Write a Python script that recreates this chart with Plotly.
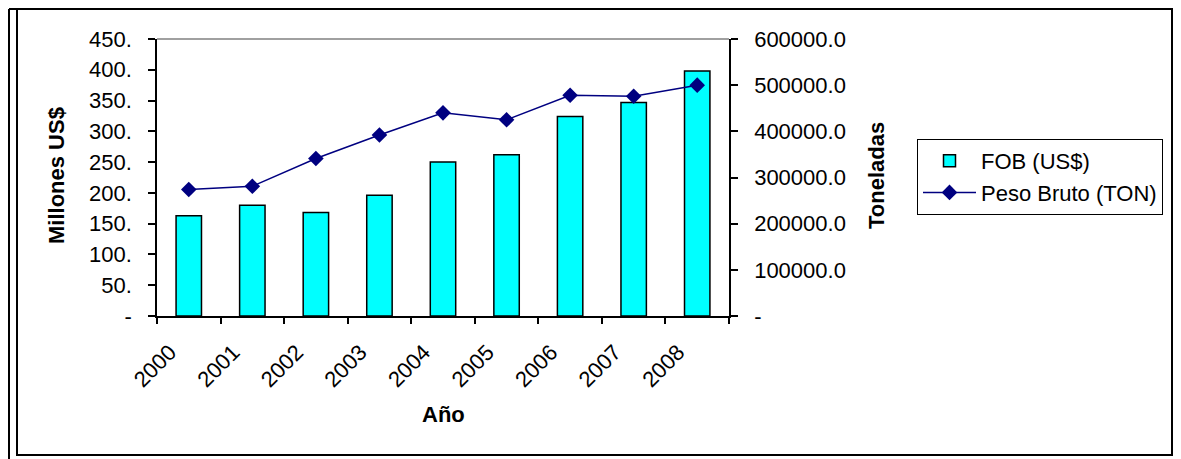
import plotly.graph_objects as go

years = ["2000", "2001", "2002", "2003", "2004", "2005", "2006", "2007", "2008"]
fob_musd = [163, 180, 168, 196, 250, 262, 324, 347, 398]
peso_ton = [274000, 281000, 341000, 392000, 440000, 425000, 478000, 476000, 500000]

left_ticks = [0, 50, 100, 150, 200, 250, 300, 350, 400, 450]
left_text = ["-", "50.", "100.", "150.", "200.", "250.", "300.", "350.", "400.", "450."]
right_ticks = [0, 100000, 200000, 300000, 400000, 500000, 600000]
right_text = ["-", "100000.0", "200000.0", "300000.0", "400000.0", "500000.0", "600000.0"]

# screen layout (page body has an 8px margin)
O = 8
SW, SH = 1181, 459
W, H = SW - O, SH - O
L, R, T, B = 157, 729, 39, 316
FONT = "Liberation Sans, Arial, sans-serif"


def px(x):
    return (x - L) / (R - L)


def py(y):
    return (B - y) / (B - T)


fig = go.Figure()
fig.add_trace(go.Bar(
    x=years, y=fob_musd, name="FOB (US$)", width=0.4,
    marker=dict(color="#00FFFF", line=dict(color="black", width=1.5)),
    yaxis="y",
))
fig.add_trace(go.Scatter(
    x=years, y=peso_ton, name="Peso Bruto (TON)", mode="lines+markers",
    line=dict(color="#000080", width=1.5),
    marker=dict(symbol="diamond", size=12, color="#000080"),
    yaxis="y2",
))

axis_common = dict(showgrid=False, zeroline=False, showline=True, linecolor="black",
                   linewidth=1.5, tickcolor="black", tickwidth=1.5)

fig.update_layout(
    width=W, height=H, autosize=False,
    margin=dict(l=L - O, r=SW - R, t=T - O, b=SH - B),
    paper_bgcolor="white", plot_bgcolor="white",
    font=dict(family=FONT, size=22, color="black"),
    showlegend=True,
    legend=dict(x=px(917), y=py(139), xanchor="left", yanchor="top",
                bgcolor="white", bordercolor="black", borderwidth=1,
                font=dict(size=22), traceorder="normal", itemwidth=53),
    bargap=0.6,
    xaxis=dict(type="category", ticks="outside", ticklen=6, tickson="boundaries",
               tickangle=-45, range=[-0.5, 8.5], ticklabelshift=-19,
               ticklabelstandoff=13, **axis_common),
    xaxis2=dict(overlaying="x", range=[-0.5, 8.5], tickvals=[i - 0.5 for i in range(10)],
                ticks="inside", ticklen=6, showticklabels=False, showline=False,
                showgrid=False, zeroline=False, tickcolor="black", tickwidth=1.5),
    yaxis=dict(range=[0, 450], tickvals=left_ticks, ticktext=left_text,
               ticks="outside", ticklen=7, ticklabelstandoff=12, **axis_common),
    yaxis2=dict(range=[0, 600000], tickvals=right_ticks, ticktext=right_text,
                overlaying="y", side="right", ticks="outside", ticklen=7,
                ticklabelstandoff=12, **axis_common),
    yaxis3=dict(range=[0, 450], tickvals=left_ticks, overlaying="y", side="left",
                ticks="inside", ticklen=6, showticklabels=False, showline=False,
                showgrid=False, zeroline=False, tickcolor="black", tickwidth=1.5),
    yaxis4=dict(range=[0, 600000], tickvals=right_ticks, overlaying="y", side="right",
                ticks="inside", ticklen=7, showticklabels=False, showline=False,
                showgrid=False, zeroline=False, tickcolor="black", tickwidth=1.5),
)

# top gray line (gridline at max)
fig.add_shape(type="line", xref="paper", yref="paper", x0=0, x1=1, y0=1, y1=1,
              line=dict(color="#808080", width=1.5), layer="below")

# frame
frame = dict(color="black", width=2)
fig.add_shape(type="rect", xref="paper", yref="paper", x0=px(17), x1=px(1172),
              y0=py(455), y1=py(9), line=frame)
fig.add_shape(type="line", xref="paper", yref="paper", x0=px(9), x1=px(9),
              y0=py(459), y1=py(9), line=frame)
fig.add_shape(type="line", xref="paper", yref="paper", x0=px(9), x1=px(1181),
              y0=py(9), y1=py(9), line=frame)

# axis titles
title_font = dict(family=FONT, size=22, color="black", weight="bold")
anchors = dict(xref="paper", yref="paper", xanchor="center", yanchor="middle", showarrow=False)
fig.add_annotation(text="Millones US$", x=px(56), y=py(176), textangle=-90,
                   font=title_font, **anchors)
fig.add_annotation(text="Toneladas", x=px(876), y=py(176), textangle=-90,
                   font=title_font, **anchors)
fig.add_annotation(text="Año", x=px(443), y=py(414), font=title_font, **anchors)

fig.write_html("out.html")
